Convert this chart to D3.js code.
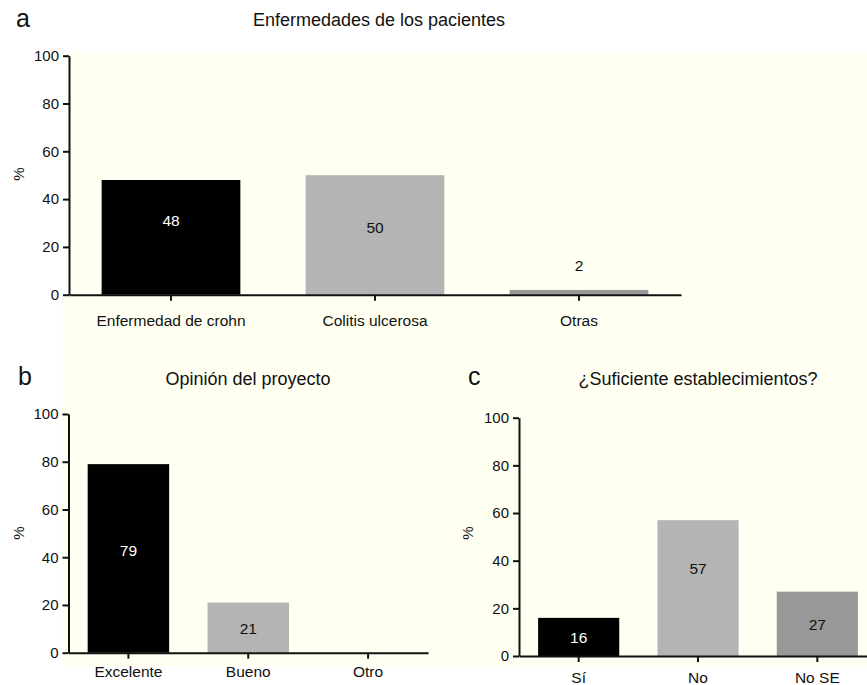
<!DOCTYPE html>
<html>
<head>
<meta charset="utf-8">
<script src="https://cdn.jsdelivr.net/npm/d3@7"></script>
<style>
  html, body { margin: 0; padding: 0; background: #ffffff; }
  svg { display: block; }
  text { font-family: "Liberation Sans", Arial, Helvetica, sans-serif; fill: #111; }
</style>
</head>
<body>
<svg id="fig" width="867" height="685"></svg>
<script>
// Survey results, in percent
const diseaseCategories = ["Enfermedad de crohn", "Colitis ulcerosa", "Otras"];
const diseaseValues = [48, 50, 2];
const diseaseLabelAt = [31, 28, 12.4];

const opinionCategories = ["Excelente", "Bueno", "Otro"];
const opinionValues = [79, 21, 0];
const opinionLabelAt = [42.7, 10];

const facilityCategories = ["Sí", "No", "No SE"];
const facilityValues = [16, 57, 27];
const facilityLabelAt = [8, 36.8, 13.3];

const yTickValues = [0, 20, 40, 60, 80, 100];

const barColors = ["#000000", "#b4b4b4", "#999999"];
const labelColors = ["#ffffff", "#111111", "#111111"];

const svg = d3.select("#fig");

// cream plotting background behind the panels
svg.append("path")
  .attr("d", "M69,52 H867 V666 H61 V296 H69 Z")
  .attr("fill", "#fffff2");

const panels = [
  {
    letter: "a", title: "Enfermedades de los pacientes",
    categories: diseaseCategories, values: diseaseValues, labelAt: diseaseLabelAt,
    xRange: [69, 681], yRange: [294.7, 55.7],
    titlePos: [379, 26], letterPos: [16, 27], pctPos: [19, 174], catPad: 14
  },
  {
    letter: "b", title: "Opinión del proyecto",
    categories: opinionCategories, values: opinionValues, labelAt: opinionLabelAt,
    xRange: [68.5, 428], yRange: [652.7, 414],
    titlePos: [248, 385], letterPos: [18, 385], pctPos: [19, 533], catPad: 7.6
  },
  {
    letter: "c", title: "¿Suficiente establecimientos?",
    categories: facilityCategories, values: facilityValues, labelAt: facilityLabelAt,
    xRange: [519, 877], yRange: [656, 417.7],
    titlePos: [698, 385], letterPos: [468, 385], pctPos: [468, 533], catPad: 10
  }
];

panels.forEach(p => {
  const g = svg.append("g");

  const x = d3.scaleBand()
    .domain(p.categories)
    .range(p.xRange)
    .paddingInner(0.32)
    .paddingOuter(0.16);

  const y = d3.scaleLinear().domain([0, 100]).range(p.yRange);

  // bars
  g.selectAll("rect.bar")
    .data(p.categories.map((c, i) => ({ c, v: p.values[i], i })))
    .join("rect")
    .attr("class", "bar")
    .attr("x", d => x(d.c))
    .attr("width", x.bandwidth())
    .attr("y", d => y(d.v))
    .attr("height", d => y(0) - y(d.v))
    .attr("fill", d => barColors[d.i]);

  // value labels
  g.selectAll("text.val")
    .data(p.categories.map((c, i) => ({ c, v: p.values[i], i })).filter(d => d.v > 0))
    .join("text")
    .attr("class", "val")
    .attr("x", d => x(d.c) + x.bandwidth() / 2)
    .attr("y", d => y(p.labelAt[d.i]))
    .attr("dy", "0.36em")
    .attr("text-anchor", "middle")
    .style("font-size", "15.5px")
    .style("fill", d => labelColors[d.i])
    .text(d => d.v);

  // y axis
  const yAxis = g.append("g")
    .attr("transform", `translate(${p.xRange[0]},0)`)
    .call(d3.axisLeft(y).tickValues(yTickValues).tickSize(6).tickSizeOuter(0).tickPadding(4));

  // x axis
  const xAxis = g.append("g")
    .attr("transform", `translate(0,${p.yRange[0]})`)
    .call(d3.axisBottom(x).tickSize(6).tickSizeOuter(0).tickPadding(p.catPad));

  [yAxis, xAxis].forEach(ax => {
    ax.select(".domain").attr("stroke", "#111").attr("stroke-width", 2);
    ax.selectAll(".tick line").attr("stroke", "#111").attr("stroke-width", 2);
    ax.selectAll(".tick text").style("font-size", "15px").style("fill", "#111")
      .style("font-family", "'Liberation Sans', Arial, sans-serif");
  });
  xAxis.selectAll(".tick text").style("font-size", "15.5px");

  // titles and labels
  g.append("text")
    .attr("x", p.titlePos[0]).attr("y", p.titlePos[1])
    .attr("text-anchor", "middle")
    .style("font-size", "18px")
    .text(p.title);

  g.append("text")
    .attr("x", p.letterPos[0]).attr("y", p.letterPos[1])
    .style("font-size", "25px")
    .text(p.letter);

  g.append("text")
    .attr("transform", `translate(${p.pctPos[0]},${p.pctPos[1]}) rotate(-90)`)
    .attr("text-anchor", "middle")
    .attr("dy", "0.36em")
    .style("font-size", "15px")
    .text("%");
});
</script>
</body>
</html>
